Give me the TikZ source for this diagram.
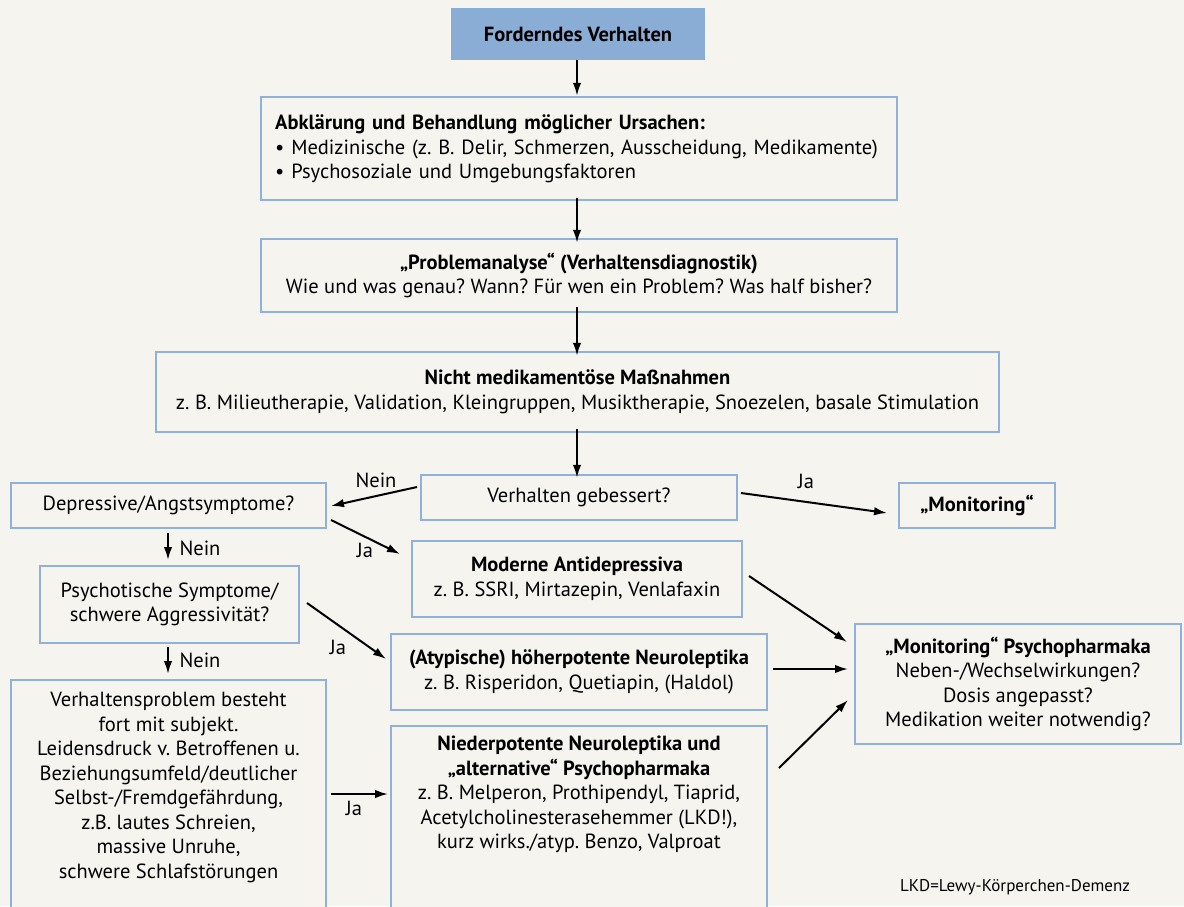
\documentclass[tikz,border=0pt]{standalone}
\usepackage{fontspec}
\setmainfont{PT Sans}
\usetikzlibrary{arrows.meta}
\definecolor{bg}{HTML}{F5F4EE}
\definecolor{bordc}{HTML}{8FB1DA}
\definecolor{topfill}{HTML}{8AADD6}
\tikzset{
  box/.style={draw=bordc, line width=2.5pt, fill=bg, inner sep=0pt, align=center,
    font=\fontsize{20.5}{24.5}\selectfont},
  arr/.style={-{Latex[length=13pt,width=8.5pt]}, line width=2pt, black},
  lbl/.style={font=\fontsize{20.5}{24.5}\selectfont, inner sep=0pt},
}
\begin{document}
\frenchspacing
\begin{tikzpicture}[x=1pt,y=-1pt]
\useasboundingbox (0,0) rectangle (1184,906);
\fill[bg] (0,0) rectangle (1184,906);

\node[box, fill=topfill, draw=topfill, minimum width=252pt, minimum height=50pt] (top) at (578,34) {\textbf{Forderndes Verhalten}};

\node[box, minimum width=636pt, minimum height=103pt] (b2) at (579,148.5) {};
\node[lbl, anchor=north west, align=left, text width=620pt] (b2t) at (275,115)
 {\textbf{Abklärung und Behandlung möglicher Ursachen:}\\
  • Medizinische (z. B. Delir, Schmerzen, Ausscheidung, Medikamente)\\
  • Psychosoziale und Umgebungsfaktoren};

\node[box, minimum width=636pt, minimum height=73pt] (b3) at (579,275.5)
 {\textbf{„Problemanalyse“ (Verhaltensdiagnostik)}\\Wie und was genau? Wann? Für wen ein Problem? Was half bisher?};

\node[box, minimum width=843pt, minimum height=80pt] (b4) at (577.5,392)
 {\textbf{Nicht medikamentöse Maßnahmen}\\z. B. Milieutherapie, Validation, Kleingruppen, Musiktherapie, Snoezelen, basale Stimulation};

\node[box, minimum width=316pt, minimum height=45pt] (geb) at (579,497.5) {Verhalten gebessert?};
\node[box, minimum width=315pt, minimum height=45pt] (dep) at (168.5,505.5) {Depressive/Angstsymptome?};
\node[box, minimum width=156pt, minimum height=45pt] (mon) at (977,505.5) {\textbf{„Monitoring“}};
\node[box, minimum width=330pt, minimum height=76pt] (mod) at (577,579)
 {\textbf{Moderne Antidepressiva}\\z. B. SSRI, Mirtazepin, Venlafaxin};
\node[box, minimum width=259pt, minimum height=77pt] (psy) at (169.5,604.5)
 {Psychotische Symptome/\\schwere Aggressivität?};
\node[box, minimum width=376pt, minimum height=76pt] (aty) at (579,672)
 {\textbf{(Atypische) höherpotente Neuroleptika}\\z. B. Risperidon, Quetiapin, (Haldol)};
\node[box, minimum width=376pt, minimum height=210pt] (nie) at (579,831) {};
\node[lbl, anchor=north, align=center] (niet) at (579,736)
 {\textbf{Niederpotente Neuroleptika und}\\\textbf{„alternative“ Psychopharmaka}\\z. B. Melperon, Prothipendyl, Tiaprid,\\Acetylcholinesterasehemmer (LKD!),\\kurz wirks./atyp. Benzo, Valproat};
\node[box, minimum width=326pt, minimum height=120pt] (mps) at (1018,684)
 {\textbf{„Monitoring“ Psychopharmaka}\\Neben-/Wechselwirkungen?\\Dosis angepasst?\\Medikation weiter notwendig?};
\node[box, minimum width=315pt, minimum height=256pt] (lb) at (168.5,808) {};
\node[lbl, anchor=north, align=center] (lbt) at (168.5,692)
 {Verhaltensproblem besteht\\fort mit subjekt.\\Leidensdruck v. Betroffenen u.\\Beziehungsumfeld/deutlicher\\Selbst-/Fremdgefährdung,\\z.B. lautes Schreien,\\massive Unruhe,\\schwere Schlafstörungen};

\node[lbl, font=\fontsize{17}{19}\selectfont] (foot) at (1015,887) {LKD=Lewy-Körperchen-Demenz};

% connectors
\coordinate (a1s) at (577,61);
\draw[arr] (top.south -| a1s) -- (b2.north -| a1s);
\draw[arr] ([yshift=3pt]b2.south -| a1s) -- ([yshift=-5pt]b3.north -| a1s);
\draw[arr] ([yshift=6pt]b3.south -| a1s) -- ([yshift=-5pt]b4.north -| a1s);
\draw[arr] ([yshift=4pt]b4.south -| a1s) -- ([yshift=-4pt]geb.north -| a1s);

\coordinate (n1s) at (417,487); \coordinate (n1e) at (331,506);
\draw[arr] (n1s) -- (n1e);
\node[lbl] (n1l) at (376,480) {Nein};
\coordinate (j1s) at (741,493); \coordinate (j1e) at (887,513);
\draw[arr] (j1s) -- (j1e);
\node[lbl] (j1l) at (806,481) {Ja};
\coordinate (j2s) at (331,520); \coordinate (j2e) at (400,554);
\draw[arr] (j2s) -- (j2e);
\node[lbl] (j2l) at (365,550) {Ja};
\coordinate (d1s) at (168,533); \coordinate (d1e) at (168,560);
\draw[arr] (d1s) -- (d1e);
\node[lbl] (d1l) at (200,548) {Nein};
\coordinate (j3s) at (307,603); \coordinate (j3e) at (386,659);
\draw[arr] (j3s) -- (j3e);
\node[lbl] (j3l) at (338,647) {Ja};
\coordinate (d2s) at (168,647); \coordinate (d2e) at (168,674);
\draw[arr] (d2s) -- (d2e);
\node[lbl] (d2l) at (200,660) {Nein};
\coordinate (j4s) at (331,794); \coordinate (j4e) at (388,794);
\draw[arr] (j4s) -- (j4e);
\node[lbl] (j4l) at (354,808) {Ja};
\coordinate (m1s) at (749,576); \coordinate (m1e) at (847,642);
\draw[arr] (m1s) -- (m1e);
\coordinate (m2s) at (773,669); \coordinate (m2e) at (848,669);
\draw[arr] (m2s) -- (m2e);
\coordinate (m3s) at (779,768); \coordinate (m3e) at (848,700);
\draw[arr] (m3s) -- (m3e);
\end{tikzpicture}
\end{document}
